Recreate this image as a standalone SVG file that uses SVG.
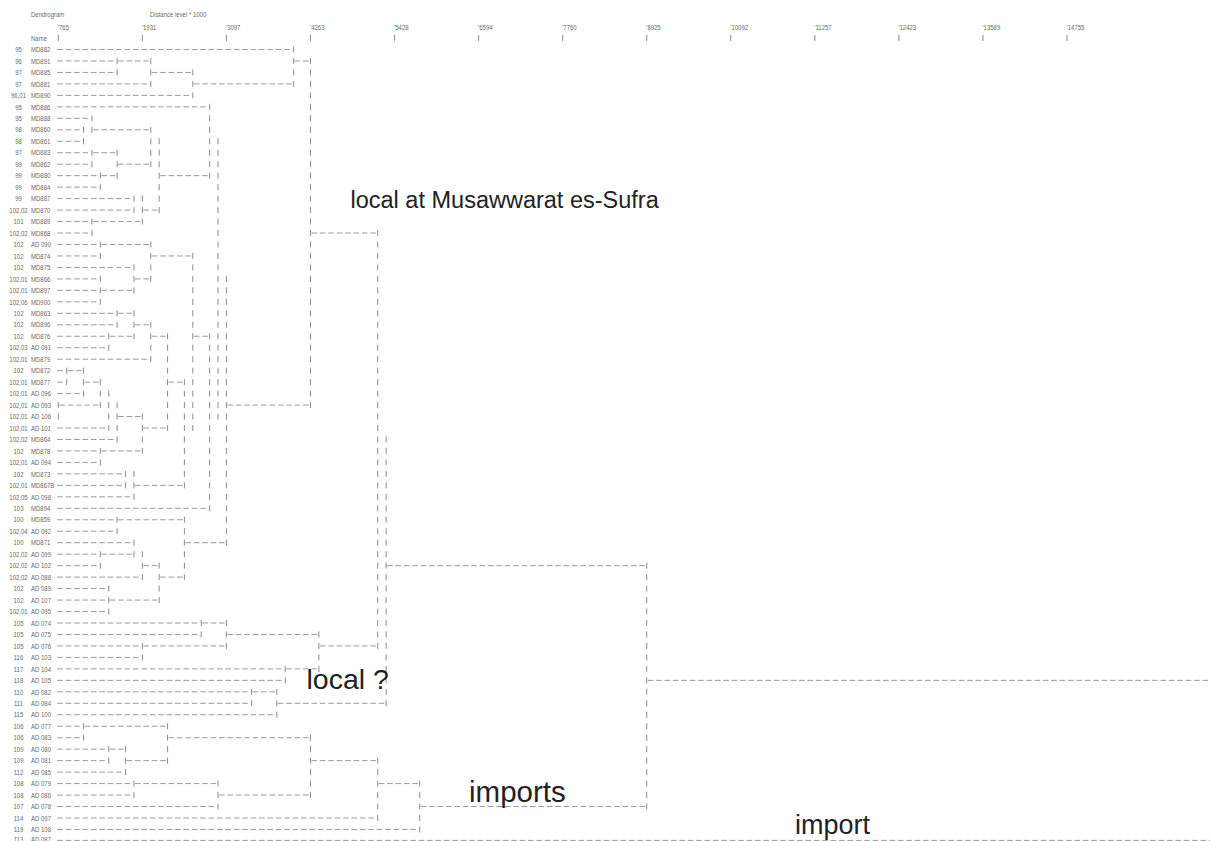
<svg xmlns="http://www.w3.org/2000/svg" width="1210" height="841" viewBox="0 0 1210 841">
<style>
.t{font-family:"Liberation Sans",Arial,sans-serif;font-size:7.5px;fill:#6a6a6a}
.c{text-anchor:middle}
.h{stroke:#9a9a9a;stroke-width:1;stroke-dasharray:5.6 2.806;fill:none}
.v{stroke:#8a8a8a;stroke-width:1;stroke-dasharray:6 5.47;fill:none}
.k{stroke:#8a8a8a;stroke-width:1}
.big{font-family:"Liberation Sans",Arial,sans-serif;fill:#222}
</style>
<rect width="1210" height="841" fill="#fff"/>
<g id="header">
<g transform="scale(0.8,1)" class="t">
<text x="38.75" y="17.5">Dendrogram</text>
<text x="187.5" y="17.5">Distance level * 1000</text>
<text x="38.75" y="40.6">Name</text>
<text x="72.3" y="30.5">'765</text>
<text x="177.3" y="30.5">'1931</text>
<text x="282.4" y="30.5">'3097</text>
<text x="387.5" y="30.5">'4263</text>
<text x="492.6" y="30.5">'5428</text>
<text x="597.6" y="30.5">'6594</text>
<text x="702.7" y="30.5">'7760</text>
<text x="807.8" y="30.5">'8925</text>
<text x="912.9" y="30.5">'10092</text>
<text x="1017.9" y="30.5">'11257</text>
<text x="1123" y="30.5">'12423</text>
<text x="1228.1" y="30.5">'13589</text>
<text x="1333.2" y="30.5">'14755</text>
</g>
<line class="k" x1="58.3" y1="35" x2="58.3" y2="41"/>
<line class="k" x1="142.36" y1="35" x2="142.36" y2="41"/>
<line class="k" x1="226.42" y1="35" x2="226.42" y2="41"/>
<line class="k" x1="310.48" y1="35" x2="310.48" y2="41"/>
<line class="k" x1="394.54" y1="35" x2="394.54" y2="41"/>
<line class="k" x1="478.6" y1="35" x2="478.6" y2="41"/>
<line class="k" x1="562.66" y1="35" x2="562.66" y2="41"/>
<line class="k" x1="646.72" y1="35" x2="646.72" y2="41"/>
<line class="k" x1="730.78" y1="35" x2="730.78" y2="41"/>
<line class="k" x1="814.84" y1="35" x2="814.84" y2="41"/>
<line class="k" x1="898.9" y1="35" x2="898.9" y2="41"/>
<line class="k" x1="982.96" y1="35" x2="982.96" y2="41"/>
<line class="k" x1="1067.02" y1="35" x2="1067.02" y2="41"/>
</g>
<g id="labels" class="t">
<g id="n1" transform="translate(0,52.2) scale(0.8,1)"><text class="c" x="23.1">95</text><text x="38.75">MD882</text></g>
<g id="n2" transform="translate(0,63.67) scale(0.8,1)"><text class="c" x="23.1">96</text><text x="38.75">MD891</text></g>
<g id="n3" transform="translate(0,75.14) scale(0.8,1)"><text class="c" x="23.1">97</text><text x="38.75">MD885</text></g>
<g id="n4" transform="translate(0,86.61) scale(0.8,1)"><text class="c" x="23.1">97</text><text x="38.75">MD881</text></g>
<g id="n5" transform="translate(0,98.08) scale(0.8,1)"><text class="c" x="23.1">96,01</text><text x="38.75">MD890</text></g>
<g id="n6" transform="translate(0,109.55) scale(0.8,1)"><text class="c" x="23.1">95</text><text x="38.75">MD886</text></g>
<g id="n7" transform="translate(0,121.02) scale(0.8,1)"><text class="c" x="23.1">95</text><text x="38.75">MD888</text></g>
<g id="n8" transform="translate(0,132.49) scale(0.8,1)"><text class="c" x="23.1">98</text><text x="38.75">MD860</text></g>
<g id="n9" transform="translate(0,143.96) scale(0.8,1)"><text class="c" x="23.1">98</text><text x="38.75">MD861</text></g>
<g id="n10" transform="translate(0,155.43) scale(0.8,1)"><text class="c" x="23.1">97</text><text x="38.75">MD883</text></g>
<g id="n11" transform="translate(0,166.9) scale(0.8,1)"><text class="c" x="23.1">99</text><text x="38.75">MD862</text></g>
<g id="n12" transform="translate(0,178.37) scale(0.8,1)"><text class="c" x="23.1">99</text><text x="38.75">MD880</text></g>
<g id="n13" transform="translate(0,189.84) scale(0.8,1)"><text class="c" x="23.1">99</text><text x="38.75">MD884</text></g>
<g id="n14" transform="translate(0,201.31) scale(0.8,1)"><text class="c" x="23.1">99</text><text x="38.75">MD887</text></g>
<g id="n15" transform="translate(0,212.78) scale(0.8,1)"><text class="c" x="23.1">102,02</text><text x="38.75">MD870</text></g>
<g id="n16" transform="translate(0,224.25) scale(0.8,1)"><text class="c" x="23.1">101</text><text x="38.75">MD889</text></g>
<g id="n17" transform="translate(0,235.72) scale(0.8,1)"><text class="c" x="23.1">102,02</text><text x="38.75">MD868</text></g>
<g id="n18" transform="translate(0,247.19) scale(0.8,1)"><text class="c" x="23.1">102</text><text x="38.75">AD 090</text></g>
<g id="n19" transform="translate(0,258.66) scale(0.8,1)"><text class="c" x="23.1">102</text><text x="38.75">MD874</text></g>
<g id="n20" transform="translate(0,270.13) scale(0.8,1)"><text class="c" x="23.1">102</text><text x="38.75">MD875</text></g>
<g id="n21" transform="translate(0,281.6) scale(0.8,1)"><text class="c" x="23.1">102,01</text><text x="38.75">MD866</text></g>
<g id="n22" transform="translate(0,293.07) scale(0.8,1)"><text class="c" x="23.1">102,01</text><text x="38.75">MD897</text></g>
<g id="n23" transform="translate(0,304.54) scale(0.8,1)"><text class="c" x="23.1">102,06</text><text x="38.75">MD900</text></g>
<g id="n24" transform="translate(0,316.01) scale(0.8,1)"><text class="c" x="23.1">102</text><text x="38.75">MD863</text></g>
<g id="n25" transform="translate(0,327.48) scale(0.8,1)"><text class="c" x="23.1">102</text><text x="38.75">MD896</text></g>
<g id="n26" transform="translate(0,338.95) scale(0.8,1)"><text class="c" x="23.1">102</text><text x="38.75">MD876</text></g>
<g id="n27" transform="translate(0,350.42) scale(0.8,1)"><text class="c" x="23.1">102,03</text><text x="38.75">AD 091</text></g>
<g id="n28" transform="translate(0,361.89) scale(0.8,1)"><text class="c" x="23.1">102,01</text><text x="38.75">MD879</text></g>
<g id="n29" transform="translate(0,373.36) scale(0.8,1)"><text class="c" x="23.1">102</text><text x="38.75">MD872</text></g>
<g id="n30" transform="translate(0,384.83) scale(0.8,1)"><text class="c" x="23.1">102,01</text><text x="38.75">MD877</text></g>
<g id="n31" transform="translate(0,396.3) scale(0.8,1)"><text class="c" x="23.1">102,01</text><text x="38.75">AD 096</text></g>
<g id="n32" transform="translate(0,407.77) scale(0.8,1)"><text class="c" x="23.1">102,01</text><text x="38.75">AD 093</text></g>
<g id="n33" transform="translate(0,419.24) scale(0.8,1)"><text class="c" x="23.1">102,01</text><text x="38.75">AD 106</text></g>
<g id="n34" transform="translate(0,430.71) scale(0.8,1)"><text class="c" x="23.1">102,01</text><text x="38.75">AD 101</text></g>
<g id="n35" transform="translate(0,442.18) scale(0.8,1)"><text class="c" x="23.1">102,02</text><text x="38.75">MD864</text></g>
<g id="n36" transform="translate(0,453.65) scale(0.8,1)"><text class="c" x="23.1">102</text><text x="38.75">MD878</text></g>
<g id="n37" transform="translate(0,465.12) scale(0.8,1)"><text class="c" x="23.1">102,01</text><text x="38.75">AD 094</text></g>
<g id="n38" transform="translate(0,476.59) scale(0.8,1)"><text class="c" x="23.1">102</text><text x="38.75">MD873</text></g>
<g id="n39" transform="translate(0,488.06) scale(0.8,1)"><text class="c" x="23.1">102,01</text><text x="38.75">MD867B</text></g>
<g id="n40" transform="translate(0,499.53) scale(0.8,1)"><text class="c" x="23.1">102,05</text><text x="38.75">AD 098</text></g>
<g id="n41" transform="translate(0,511) scale(0.8,1)"><text class="c" x="23.1">103</text><text x="38.75">MD894</text></g>
<g id="n42" transform="translate(0,522.47) scale(0.8,1)"><text class="c" x="23.1">100</text><text x="38.75">MD859</text></g>
<g id="n43" transform="translate(0,533.94) scale(0.8,1)"><text class="c" x="23.1">102,04</text><text x="38.75">AD 092</text></g>
<g id="n44" transform="translate(0,545.41) scale(0.8,1)"><text class="c" x="23.1">100</text><text x="38.75">MD871</text></g>
<g id="n45" transform="translate(0,556.88) scale(0.8,1)"><text class="c" x="23.1">102,02</text><text x="38.75">AD 099</text></g>
<g id="n46" transform="translate(0,568.35) scale(0.8,1)"><text class="c" x="23.1">102,02</text><text x="38.75">AD 102</text></g>
<g id="n47" transform="translate(0,579.82) scale(0.8,1)"><text class="c" x="23.1">102,02</text><text x="38.75">AD 088</text></g>
<g id="n48" transform="translate(0,591.29) scale(0.8,1)"><text class="c" x="23.1">102</text><text x="38.75">AD 089</text></g>
<g id="n49" transform="translate(0,602.76) scale(0.8,1)"><text class="c" x="23.1">102</text><text x="38.75">AD 107</text></g>
<g id="n50" transform="translate(0,614.23) scale(0.8,1)"><text class="c" x="23.1">102,01</text><text x="38.75">AD 095</text></g>
<g id="n51" transform="translate(0,625.7) scale(0.8,1)"><text class="c" x="23.1">105</text><text x="38.75">AD 074</text></g>
<g id="n52" transform="translate(0,637.17) scale(0.8,1)"><text class="c" x="23.1">105</text><text x="38.75">AD 075</text></g>
<g id="n53" transform="translate(0,648.64) scale(0.8,1)"><text class="c" x="23.1">105</text><text x="38.75">AD 076</text></g>
<g id="n54" transform="translate(0,660.11) scale(0.8,1)"><text class="c" x="23.1">116</text><text x="38.75">AD 103</text></g>
<g id="n55" transform="translate(0,671.58) scale(0.8,1)"><text class="c" x="23.1">117</text><text x="38.75">AD 104</text></g>
<g id="n56" transform="translate(0,683.05) scale(0.8,1)"><text class="c" x="23.1">118</text><text x="38.75">AD 105</text></g>
<g id="n57" transform="translate(0,694.52) scale(0.8,1)"><text class="c" x="23.1">110</text><text x="38.75">AD 082</text></g>
<g id="n58" transform="translate(0,705.99) scale(0.8,1)"><text class="c" x="23.1">111</text><text x="38.75">AD 084</text></g>
<g id="n59" transform="translate(0,717.46) scale(0.8,1)"><text class="c" x="23.1">115</text><text x="38.75">AD 100</text></g>
<g id="n60" transform="translate(0,728.93) scale(0.8,1)"><text class="c" x="23.1">106</text><text x="38.75">AD 077</text></g>
<g id="n61" transform="translate(0,740.4) scale(0.8,1)"><text class="c" x="23.1">106</text><text x="38.75">AD 083</text></g>
<g id="n62" transform="translate(0,751.87) scale(0.8,1)"><text class="c" x="23.1">109</text><text x="38.75">AD 080</text></g>
<g id="n63" transform="translate(0,763.34) scale(0.8,1)"><text class="c" x="23.1">109</text><text x="38.75">AD 081</text></g>
<g id="n64" transform="translate(0,774.81) scale(0.8,1)"><text class="c" x="23.1">112</text><text x="38.75">AD 085</text></g>
<g id="n65" transform="translate(0,786.28) scale(0.8,1)"><text class="c" x="23.1">108</text><text x="38.75">AD 079</text></g>
<g id="n66" transform="translate(0,797.75) scale(0.8,1)"><text class="c" x="23.1">108</text><text x="38.75">AD 086</text></g>
<g id="n67" transform="translate(0,809.22) scale(0.8,1)"><text class="c" x="23.1">107</text><text x="38.75">AD 078</text></g>
<g id="n68" transform="translate(0,820.69) scale(0.8,1)"><text class="c" x="23.1">114</text><text x="38.75">AD 097</text></g>
<g id="n69" transform="translate(0,832.16) scale(0.8,1)"><text class="c" x="23.1">119</text><text x="38.75">AD 108</text></g>
<g id="n70" transform="translate(0,842.3) scale(0.8,1)"><text class="c" x="23.1">113</text><text x="38.75">AD 087</text></g>
</g>
<g id="connectors">
<g id="leaves">
<line class="h" x1="57.3" y1="49.5" x2="292.67" y2="49.5"/>
<line class="h" x1="57.3" y1="60.97" x2="116.14" y2="60.97"/>
<line class="h" x1="57.3" y1="72.44" x2="116.14" y2="72.44"/>
<line class="h" x1="57.3" y1="83.91" x2="149.77" y2="83.91"/>
<line class="h" x1="57.3" y1="95.38" x2="191.8" y2="95.38"/>
<line class="h" x1="57.3" y1="106.85" x2="208.61" y2="106.85"/>
<line class="h" x1="57.3" y1="118.32" x2="90.92" y2="118.32"/>
<line class="h" x1="57.3" y1="129.79" x2="82.52" y2="129.79"/>
<line class="h" x1="57.3" y1="141.26" x2="82.52" y2="141.26"/>
<line class="h" x1="57.3" y1="152.73" x2="90.92" y2="152.73"/>
<line class="h" x1="57.3" y1="164.2" x2="90.92" y2="164.2"/>
<line class="h" x1="57.3" y1="175.67" x2="99.33" y2="175.67"/>
<line class="h" x1="57.3" y1="187.14" x2="99.33" y2="187.14"/>
<line class="h" x1="57.3" y1="198.61" x2="132.95" y2="198.61"/>
<line class="h" x1="57.3" y1="210.08" x2="132.95" y2="210.08"/>
<line class="h" x1="57.3" y1="221.55" x2="90.92" y2="221.55"/>
<line class="h" x1="57.3" y1="233.02" x2="90.92" y2="233.02"/>
<line class="h" x1="57.3" y1="244.49" x2="99.33" y2="244.49"/>
<line class="h" x1="57.3" y1="255.96" x2="99.33" y2="255.96"/>
<line class="h" x1="57.3" y1="267.43" x2="132.95" y2="267.43"/>
<line class="h" x1="57.3" y1="278.9" x2="99.33" y2="278.9"/>
<line class="h" x1="57.3" y1="290.37" x2="99.33" y2="290.37"/>
<line class="h" x1="57.3" y1="301.84" x2="99.33" y2="301.84"/>
<line class="h" x1="57.3" y1="313.31" x2="116.14" y2="313.31"/>
<line class="h" x1="57.3" y1="324.78" x2="116.14" y2="324.78"/>
<line class="h" x1="57.3" y1="336.25" x2="107.74" y2="336.25"/>
<line class="h" x1="57.3" y1="347.72" x2="107.74" y2="347.72"/>
<line class="h" x1="57.3" y1="359.19" x2="149.77" y2="359.19"/>
<line class="h" x1="57.3" y1="370.66" x2="65.71" y2="370.66"/>
<line class="h" x1="57.3" y1="382.13" x2="65.71" y2="382.13"/>
<line class="h" x1="57.3" y1="393.6" x2="82.52" y2="393.6"/>
<line class="h" x1="57.3" y1="428.01" x2="107.74" y2="428.01"/>
<line class="h" x1="57.3" y1="439.48" x2="116.14" y2="439.48"/>
<line class="h" x1="57.3" y1="450.95" x2="99.33" y2="450.95"/>
<line class="h" x1="57.3" y1="462.42" x2="99.33" y2="462.42"/>
<line class="h" x1="57.3" y1="473.89" x2="124.55" y2="473.89"/>
<line class="h" x1="57.3" y1="485.36" x2="124.55" y2="485.36"/>
<line class="h" x1="57.3" y1="496.83" x2="132.95" y2="496.83"/>
<line class="h" x1="57.3" y1="508.3" x2="208.61" y2="508.3"/>
<line class="h" x1="57.3" y1="519.77" x2="116.14" y2="519.77"/>
<line class="h" x1="57.3" y1="531.24" x2="116.14" y2="531.24"/>
<line class="h" x1="57.3" y1="542.71" x2="132.95" y2="542.71"/>
<line class="h" x1="57.3" y1="554.18" x2="99.33" y2="554.18"/>
<line class="h" x1="57.3" y1="565.65" x2="99.33" y2="565.65"/>
<line class="h" x1="57.3" y1="577.12" x2="141.36" y2="577.12"/>
<line class="h" x1="57.3" y1="588.59" x2="107.74" y2="588.59"/>
<line class="h" x1="57.3" y1="600.06" x2="107.74" y2="600.06"/>
<line class="h" x1="57.3" y1="611.53" x2="107.74" y2="611.53"/>
<line class="h" x1="57.3" y1="623" x2="200.2" y2="623"/>
<line class="h" x1="57.3" y1="634.47" x2="200.2" y2="634.47"/>
<line class="h" x1="57.3" y1="645.94" x2="141.36" y2="645.94"/>
<line class="h" x1="57.3" y1="657.41" x2="141.36" y2="657.41"/>
<line class="h" x1="57.3" y1="668.88" x2="284.26" y2="668.88"/>
<line class="h" x1="57.3" y1="680.35" x2="284.26" y2="680.35"/>
<line class="h" x1="57.3" y1="691.82" x2="250.64" y2="691.82"/>
<line class="h" x1="57.3" y1="703.29" x2="250.64" y2="703.29"/>
<line class="h" x1="57.3" y1="714.76" x2="275.86" y2="714.76"/>
<line class="h" x1="57.3" y1="726.23" x2="82.52" y2="726.23"/>
<line class="h" x1="57.3" y1="737.7" x2="82.52" y2="737.7"/>
<line class="h" x1="57.3" y1="749.17" x2="107.74" y2="749.17"/>
<line class="h" x1="57.3" y1="760.64" x2="107.74" y2="760.64"/>
<line class="h" x1="57.3" y1="772.11" x2="124.55" y2="772.11"/>
<line class="h" x1="57.3" y1="783.58" x2="132.95" y2="783.58"/>
<line class="h" x1="57.3" y1="795.05" x2="132.95" y2="795.05"/>
<line class="h" x1="57.3" y1="806.52" x2="217.02" y2="806.52"/>
<line class="h" x1="57.3" y1="817.99" x2="376.73" y2="817.99"/>
<line class="h" x1="57.3" y1="829.46" x2="418.76" y2="829.46"/>
<line class="h" x1="57.3" y1="840.4" x2="1212" y2="840.4"/>
</g>
<g id="links">
<line class="h" x1="118.14" y1="60.97" x2="149.77" y2="60.97"/>
<line class="h" x1="151.77" y1="72.44" x2="191.8" y2="72.44"/>
<line class="h" x1="193.8" y1="83.91" x2="292.67" y2="83.91"/>
<line class="h" x1="294.67" y1="60.97" x2="309.48" y2="60.97"/>
<line class="h" x1="311.48" y1="233.02" x2="376.73" y2="233.02"/>
<line class="h" x1="92.92" y1="129.79" x2="149.77" y2="129.79"/>
<line class="h" x1="92.92" y1="152.73" x2="116.14" y2="152.73"/>
<line class="h" x1="101.33" y1="175.67" x2="116.14" y2="175.67"/>
<line class="h" x1="118.14" y1="164.2" x2="149.77" y2="164.2"/>
<line class="h" x1="92.92" y1="221.55" x2="141.36" y2="221.55"/>
<line class="h" x1="143.36" y1="210.08" x2="158.17" y2="210.08"/>
<line class="h" x1="160.17" y1="175.67" x2="208.61" y2="175.67"/>
<line class="h" x1="101.33" y1="244.49" x2="149.77" y2="244.49"/>
<line class="h" x1="101.33" y1="290.37" x2="132.95" y2="290.37"/>
<line class="h" x1="134.95" y1="278.9" x2="149.77" y2="278.9"/>
<line class="h" x1="151.77" y1="255.96" x2="191.8" y2="255.96"/>
<line class="h" x1="118.14" y1="313.31" x2="132.95" y2="313.31"/>
<line class="h" x1="109.74" y1="336.25" x2="132.95" y2="336.25"/>
<line class="h" x1="134.95" y1="324.78" x2="149.77" y2="324.78"/>
<line class="h" x1="151.77" y1="336.25" x2="166.58" y2="336.25"/>
<line class="h" x1="67.71" y1="370.66" x2="82.52" y2="370.66"/>
<line class="h" x1="84.52" y1="382.13" x2="99.33" y2="382.13"/>
<line class="h" x1="59.3" y1="405.07" x2="99.33" y2="405.07"/>
<line class="h" x1="118.14" y1="416.54" x2="141.36" y2="416.54"/>
<line class="h" x1="101.33" y1="450.95" x2="141.36" y2="450.95"/>
<line class="h" x1="143.36" y1="428.01" x2="166.58" y2="428.01"/>
<line class="h" x1="168.58" y1="382.13" x2="183.39" y2="382.13"/>
<line class="h" x1="134.95" y1="485.36" x2="183.39" y2="485.36"/>
<line class="h" x1="193.8" y1="336.25" x2="208.61" y2="336.25"/>
<line class="h" x1="227.42" y1="405.07" x2="309.48" y2="405.07"/>
<line class="h" x1="118.14" y1="519.77" x2="183.39" y2="519.77"/>
<line class="h" x1="101.33" y1="554.18" x2="132.95" y2="554.18"/>
<line class="h" x1="143.36" y1="565.65" x2="158.17" y2="565.65"/>
<line class="h" x1="109.74" y1="600.06" x2="158.17" y2="600.06"/>
<line class="h" x1="160.17" y1="577.12" x2="183.39" y2="577.12"/>
<line class="h" x1="185.39" y1="542.71" x2="225.42" y2="542.71"/>
<line class="h" x1="202.2" y1="623" x2="225.42" y2="623"/>
<line class="h" x1="143.36" y1="645.94" x2="225.42" y2="645.94"/>
<line class="h" x1="227.42" y1="634.47" x2="317.89" y2="634.47"/>
<line class="h" x1="286.26" y1="668.88" x2="317.89" y2="668.88"/>
<line class="h" x1="319.89" y1="645.94" x2="376.73" y2="645.94"/>
<line class="h" x1="252.64" y1="691.82" x2="275.86" y2="691.82"/>
<line class="h" x1="277.86" y1="703.29" x2="385.13" y2="703.29"/>
<line class="h" x1="387.13" y1="565.65" x2="645.72" y2="565.65"/>
<line class="h" x1="84.52" y1="726.23" x2="166.58" y2="726.23"/>
<line class="h" x1="109.74" y1="749.17" x2="124.55" y2="749.17"/>
<line class="h" x1="126.55" y1="760.64" x2="166.58" y2="760.64"/>
<line class="h" x1="168.58" y1="737.7" x2="309.48" y2="737.7"/>
<line class="h" x1="134.95" y1="783.58" x2="217.02" y2="783.58"/>
<line class="h" x1="219.02" y1="795.05" x2="309.48" y2="795.05"/>
<line class="h" x1="311.48" y1="760.64" x2="376.73" y2="760.64"/>
<line class="h" x1="378.73" y1="783.58" x2="418.76" y2="783.58"/>
<line class="h" x1="420.76" y1="806.52" x2="645.72" y2="806.52"/>
<line class="h" x1="647.72" y1="680.35" x2="1212" y2="680.35"/>
</g>
<g id="joins">
<line class="v" x1="117.14" y1="57.97" x2="117.14" y2="75.44"/>
<line class="v" x1="150.77" y1="57.97" x2="150.77" y2="86.91"/>
<line class="v" x1="192.8" y1="69.44" x2="192.8" y2="98.38"/>
<line class="v" x1="293.67" y1="46.5" x2="293.67" y2="86.91"/>
<line class="v" x1="310.48" y1="57.97" x2="310.48" y2="408.07"/>
<line class="v" x1="83.52" y1="126.79" x2="83.52" y2="144.26"/>
<line class="v" x1="91.92" y1="115.32" x2="91.92" y2="132.79"/>
<line class="v" x1="91.92" y1="149.73" x2="91.92" y2="167.2"/>
<line class="v" x1="100.33" y1="172.67" x2="100.33" y2="190.14"/>
<line class="v" x1="117.14" y1="149.73" x2="117.14" y2="178.67"/>
<line class="v" x1="150.77" y1="126.79" x2="150.77" y2="167.2"/>
<line class="v" x1="133.95" y1="195.61" x2="133.95" y2="213.08"/>
<line class="v" x1="91.92" y1="218.55" x2="91.92" y2="236.02"/>
<line class="v" x1="142.36" y1="195.61" x2="142.36" y2="224.55"/>
<line class="v" x1="159.17" y1="138.26" x2="159.17" y2="213.08"/>
<line class="v" x1="209.61" y1="103.85" x2="209.61" y2="178.67"/>
<line class="v" x1="218.02" y1="138.26" x2="218.02" y2="419.54"/>
<line class="v" x1="100.33" y1="241.49" x2="100.33" y2="258.96"/>
<line class="v" x1="100.33" y1="275.9" x2="100.33" y2="304.84"/>
<line class="v" x1="133.95" y1="264.43" x2="133.95" y2="293.37"/>
<line class="v" x1="150.77" y1="241.49" x2="150.77" y2="281.9"/>
<line class="v" x1="117.14" y1="310.31" x2="117.14" y2="327.78"/>
<line class="v" x1="108.74" y1="333.25" x2="108.74" y2="350.72"/>
<line class="v" x1="133.95" y1="310.31" x2="133.95" y2="339.25"/>
<line class="v" x1="150.77" y1="321.78" x2="150.77" y2="362.19"/>
<line class="v" x1="66.71" y1="367.66" x2="66.71" y2="385.13"/>
<line class="v" x1="83.52" y1="367.66" x2="83.52" y2="396.6"/>
<line class="v" x1="58.3" y1="402.07" x2="58.3" y2="419.54"/>
<line class="v" x1="100.33" y1="379.13" x2="100.33" y2="408.07"/>
<line class="v" x1="108.74" y1="390.6" x2="108.74" y2="431.01"/>
<line class="v" x1="117.14" y1="402.07" x2="117.14" y2="442.48"/>
<line class="v" x1="100.33" y1="447.95" x2="100.33" y2="465.42"/>
<line class="v" x1="142.36" y1="413.54" x2="142.36" y2="453.95"/>
<line class="v" x1="167.58" y1="333.25" x2="167.58" y2="431.01"/>
<line class="v" x1="125.55" y1="470.89" x2="125.55" y2="488.36"/>
<line class="v" x1="133.95" y1="470.89" x2="133.95" y2="499.83"/>
<line class="v" x1="184.39" y1="379.13" x2="184.39" y2="488.36"/>
<line class="v" x1="192.8" y1="252.96" x2="192.8" y2="431.01"/>
<line class="v" x1="209.61" y1="333.25" x2="209.61" y2="511.3"/>
<line class="v" x1="226.42" y1="275.9" x2="226.42" y2="545.71"/>
<line class="v" x1="117.14" y1="516.77" x2="117.14" y2="534.24"/>
<line class="v" x1="100.33" y1="551.18" x2="100.33" y2="568.65"/>
<line class="v" x1="133.95" y1="539.71" x2="133.95" y2="557.18"/>
<line class="v" x1="142.36" y1="551.18" x2="142.36" y2="580.12"/>
<line class="v" x1="108.74" y1="585.59" x2="108.74" y2="614.53"/>
<line class="v" x1="159.17" y1="562.65" x2="159.17" y2="603.06"/>
<line class="v" x1="184.39" y1="516.77" x2="184.39" y2="580.12"/>
<line class="v" x1="201.2" y1="620" x2="201.2" y2="637.47"/>
<line class="v" x1="142.36" y1="642.94" x2="142.36" y2="660.41"/>
<line class="v" x1="226.42" y1="620" x2="226.42" y2="648.94"/>
<line class="v" x1="285.26" y1="665.88" x2="285.26" y2="683.35"/>
<line class="v" x1="318.89" y1="631.47" x2="318.89" y2="671.88"/>
<line class="v" x1="251.64" y1="688.82" x2="251.64" y2="706.29"/>
<line class="v" x1="276.86" y1="688.82" x2="276.86" y2="717.76"/>
<line class="v" x1="377.73" y1="230.02" x2="377.73" y2="648.94"/>
<line class="v" x1="386.13" y1="436.48" x2="386.13" y2="706.29"/>
<line class="v" x1="83.52" y1="723.23" x2="83.52" y2="740.7"/>
<line class="v" x1="108.74" y1="746.17" x2="108.74" y2="763.64"/>
<line class="v" x1="125.55" y1="746.17" x2="125.55" y2="775.11"/>
<line class="v" x1="167.58" y1="723.23" x2="167.58" y2="763.64"/>
<line class="v" x1="133.95" y1="780.58" x2="133.95" y2="798.05"/>
<line class="v" x1="218.02" y1="780.58" x2="218.02" y2="809.52"/>
<line class="v" x1="310.48" y1="734.7" x2="310.48" y2="798.05"/>
<line class="v" x1="377.73" y1="757.64" x2="377.73" y2="820.99"/>
<line class="v" x1="419.76" y1="780.58" x2="419.76" y2="832.46"/>
<line class="v" x1="646.72" y1="562.65" x2="646.72" y2="809.52"/>
</g>
</g>
<g id="annotations" class="big">
<text x="350.5" y="208" font-size="23.5">local at Musawwarat es-Sufra</text>
<text x="306.5" y="689" font-size="28.5">local ?</text>
<text x="469" y="801.5" font-size="29.5">imports</text>
<text x="795" y="834" font-size="27">import</text>
</g>
</svg>
